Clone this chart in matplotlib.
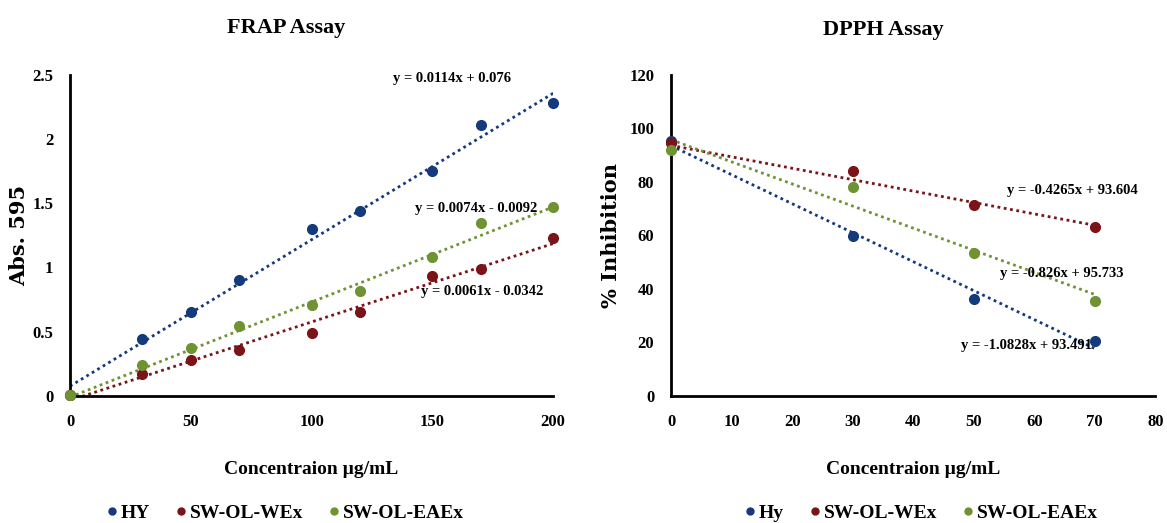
import numpy as np
import matplotlib
matplotlib.use("Agg")
import matplotlib.pyplot as plt
from matplotlib.lines import Line2D

plt.rcParams['font.family'] = ['Liberation Serif', 'DejaVu Serif']
plt.rcParams['font.weight'] = 'bold'

# FRAP assay data
frap_x = [0, 30, 50, 70, 100, 120, 150, 170, 200]
frap_hy = [0.01, 0.44, 0.655, 0.90, 1.30, 1.44, 1.75, 2.11, 2.28]
frap_wex = [0.01, 0.17, 0.28, 0.36, 0.49, 0.655, 0.935, 0.99, 1.23]
frap_eaex = [0.01, 0.24, 0.37, 0.545, 0.71, 0.82, 1.08, 1.35, 1.47]
frap_fit = {"HY": (0.0114, 0.076), "WEx": (0.0061, -0.0342), "EAEx": (0.0074, -0.0092)}
frap_eq = ["y = 0.0114x + 0.076", "y = 0.0061x - 0.0342", "y = 0.0074x - 0.0092"]

# DPPH assay data
dpph_x = [0, 30, 50, 70]
dpph_hy = [95.4, 59.8, 36.3, 20.6]
dpph_wex = [94.5, 84.1, 71.3, 63.1]
dpph_eaex = [91.9, 78.1, 53.5, 35.6]
dpph_fit = {"HY": (-1.0828, 93.491), "WEx": (-0.4265, 93.604), "EAEx": (-0.826, 95.733)}
dpph_eq = ["y = -1.0828x + 93.491", "y = -0.4265x + 93.604", "y = -0.826x + 95.733"]

colors = {"HY": "#143a7c", "WEx": "#7a1418", "EAEx": "#6f9233"}


def style_axes(ax):
    for s in ["top", "right"]:
        ax.spines[s].set_visible(False)
    for s in ["left", "bottom"]:
        ax.spines[s].set_linewidth(2)
        ax.spines[s].set_color("black")
    ax.tick_params(axis="x", length=0, labelsize=12, pad=13)
    ax.tick_params(axis="y", length=0, labelsize=12, pad=12)
    for lab in ax.get_xticklabels() + ax.get_yticklabels():
        lab.set_fontweight("bold")


def draw_panel(ax, x, series, fits, x_end):
    xs = np.array([0, x_end])
    for key, ys in series:
        m, b = fits[key]
        ax.plot(xs, m * xs + b, color=colors[key], lw=2, ls=(0, (1, 1.3)), zorder=2)
        ax.plot(x, ys, "o", color=colors[key], ms=7, zorder=3, clip_on=False)


fig = plt.figure(figsize=(11.67, 5.23), dpi=100)
ax1 = fig.add_axes([0.060, 0.243, 0.414, 0.614])
ax2 = fig.add_axes([0.575, 0.243, 0.415, 0.614])

# FRAP
draw_panel(ax1, frap_x, [("HY", frap_hy), ("WEx", frap_wex), ("EAEx", frap_eaex)], frap_fit, 200)
ax1.set_xlim(0, 200)
ax1.set_ylim(0, 2.5)
ax1.set_xticks([0, 50, 100, 150, 200])
ax1.set_yticks([0, 0.5, 1, 1.5, 2, 2.5])
ax1.set_yticklabels(["0", "0.5", "1", "1.5", "2", "2.5"])
style_axes(ax1)
ax1.set_xlabel("Concentraion µg/mL", fontsize=14, fontweight="bold", labelpad=22)
ax1.set_ylabel("Abs. 595", fontsize=15, fontweight="bold", family="DejaVu Serif")
ax1.yaxis.set_label_coords(-0.085, 0.5)
ax1.text(158, 2.47, frap_eq[0], fontsize=10.5, ha="center", va="center")
ax1.text(170.5, 0.81, frap_eq[1], fontsize=10.5, ha="center", va="center")
ax1.text(168, 1.46, frap_eq[2], fontsize=10.5, ha="center", va="center")

# DPPH
draw_panel(ax2, dpph_x, [("HY", dpph_hy), ("WEx", dpph_wex), ("EAEx", dpph_eaex)], dpph_fit, 70)
ax2.set_xlim(0, 80)
ax2.set_ylim(0, 120)
ax2.set_xticks(range(0, 81, 10))
ax2.set_yticks(range(0, 121, 20))
style_axes(ax2)
ax2.set_xlabel("Concentraion µg/mL", fontsize=14, fontweight="bold", labelpad=22)
ax2.set_ylabel("% Inhibition", fontsize=15, fontweight="bold", family="DejaVu Serif")
ax2.yaxis.set_label_coords(-0.103, 0.5)
ax2.text(58.7, 18.7, dpph_eq[0], fontsize=10.5, ha="center", va="center")
ax2.text(66.3, 76.6, dpph_eq[1], fontsize=10.5, ha="center", va="center")
ax2.text(64.5, 45.6, dpph_eq[2], fontsize=10.5, ha="center", va="center")

# titles sit a little left of the axes centres
fig.text(286 / 1167, 1 - 28 / 523, "FRAP Assay", fontsize=16, fontweight="bold", ha="center", va="center")
fig.text(883 / 1167, 1 - 30 / 523, "DPPH Assay", fontsize=16, fontweight="bold", ha="center", va="center")


def legend_handles(names):
    return [Line2D([], [], marker="o", ls="", color=colors[k], ms=5) for k in ["HY", "WEx", "EAEx"]], names


h, n = legend_handles(["HY", "SW-OL-WEx", "SW-OL-EAEx"])
fig.legend(h, n, loc="center", bbox_to_anchor=(284 / 1167, 1 - 513 / 523), ncol=3,
           frameon=False, fontsize=14, handletextpad=0.05, columnspacing=1.2, handlelength=0.8)
h, n = legend_handles(["Hy", "SW-OL-WEx", "SW-OL-EAEx"])
fig.legend(h, n, loc="center", bbox_to_anchor=(920 / 1167, 1 - 513 / 523), ncol=3,
           frameon=False, fontsize=14, handletextpad=0.05, columnspacing=1.2, handlelength=0.8)

fig.savefig("out.png", dpi=100)
